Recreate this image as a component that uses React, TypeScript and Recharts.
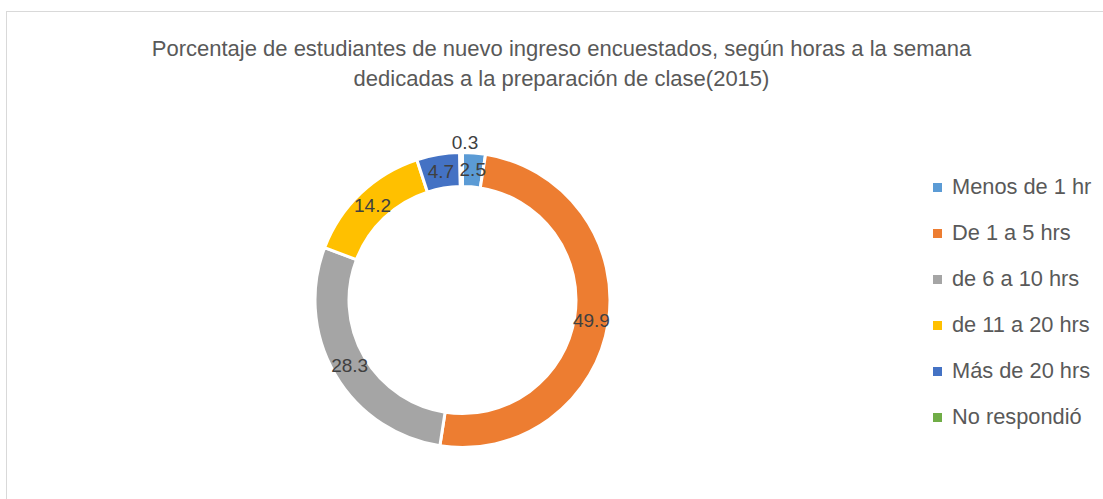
import React from "react";
import { Cell, Legend, Pie, PieChart } from "recharts";

const categories = [
  "Menos de 1 hr",
  "De 1 a 5 hrs",
  "de 6 a 10 hrs",
  "de 11 a 20 hrs",
  "Más de 20 hrs",
  "No respondió",
];
const percentages = [2.5, 49.9, 28.3, 14.2, 4.7, 0.3];
const sliceColors = ["#5B9BD5", "#ED7D31", "#A5A5A5", "#FFC000", "#4472C4", "#70AD47"];

const titleLines = [
  "Porcentaje de estudiantes de nuevo ingreso encuestados, según horas a la semana",
  "dedicadas a la preparación de clase(2015)",
];

const data = categories.map((name, i) => ({ name, value: percentages[i] }));

const FONT = '"Liberation Sans", Arial, sans-serif';
const RAD = Math.PI / 180;

function renderLabel(props: any) {
  const { cx, cy, midAngle, innerRadius, outerRadius, value, index } = props;
  // the tiny last slice gets its label pushed outside the ring
  const isLast = index === data.length - 1;
  const r = isLast ? outerRadius + 10 : (innerRadius + outerRadius) / 2;
  const x = cx + r * Math.cos(-midAngle * RAD) + (isLast ? 4 : 0);
  const y = cy + r * Math.sin(-midAngle * RAD);
  return (
    <text
      x={x}
      y={y}
      fill="#404040"
      fontSize={19}
      fontFamily={FONT}
      textAnchor="middle"
      dominantBaseline="central"
    >
      {value}
    </text>
  );
}

function renderLegend(props: any) {
  // keep the series order instead of the alphabetical one
  const items = [...(props.payload || [])].sort(
    (a: any, b: any) => categories.indexOf(a.value) - categories.indexOf(b.value)
  );
  return (
    <div style={{ fontFamily: FONT }}>
      {items.map((entry: any) => (
        <div
          key={entry.value}
          style={{ display: "flex", alignItems: "center", height: 46 }}
        >
          <span
            style={{
              display: "inline-block",
              width: 9,
              height: 9,
              background: entry.color,
              marginRight: 10,
            }}
          />
          <span style={{ fontSize: 21.8, color: "#595959", whiteSpace: "nowrap" }}>
            {entry.value}
          </span>
        </div>
      ))}
    </div>
  );
}

export default function App() {
  return (
    <div
      style={{
        position: "fixed",
        left: 0,
        top: 0,
        width: 1103,
        height: 499,
        overflow: "hidden",
        background: "#fff",
      }}
    >
      <div
        style={{
          position: "absolute",
          left: 6,
          top: 11,
          width: 1111,
          height: 520,
          border: "1px solid #d9d9d9",
          boxSizing: "border-box",
        }}
      >
        <div
          style={{
            position: "absolute",
            left: 0,
            right: 0,
            top: 22,
            textAlign: "center",
            fontFamily: FONT,
            fontSize: 22,
            lineHeight: "30px",
            color: "#595959",
          }}
        >
          {titleLines.map((line) => (
            <div key={line}>{line}</div>
          ))}
        </div>
      </div>
      <div style={{ position: "absolute", left: 0, top: 0 }}>
        <PieChart width={1103} height={499} margin={{ top: 0, right: 0, bottom: 0, left: 0 }}>
          <Pie
            data={data}
            dataKey="value"
            nameKey="name"
            cx={462.5}
            cy={300}
            innerRadius={113.5}
            outerRadius={147.5}
            startAngle={90}
            endAngle={-270}
            stroke="#ffffff"
            strokeWidth={3}
            label={renderLabel}
            labelLine={false}
            isAnimationActive={false}
          >
            {data.map((entry, i) => (
              <Cell key={entry.name} fill={sliceColors[i]} />
            ))}
          </Pie>
          <Legend
            layout="vertical"
            align="right"
            verticalAlign="top"
            content={renderLegend}
            wrapperStyle={{ left: 933, top: 164, width: 170, right: "auto" }}
          />
        </PieChart>
      </div>
    </div>
  );
}
